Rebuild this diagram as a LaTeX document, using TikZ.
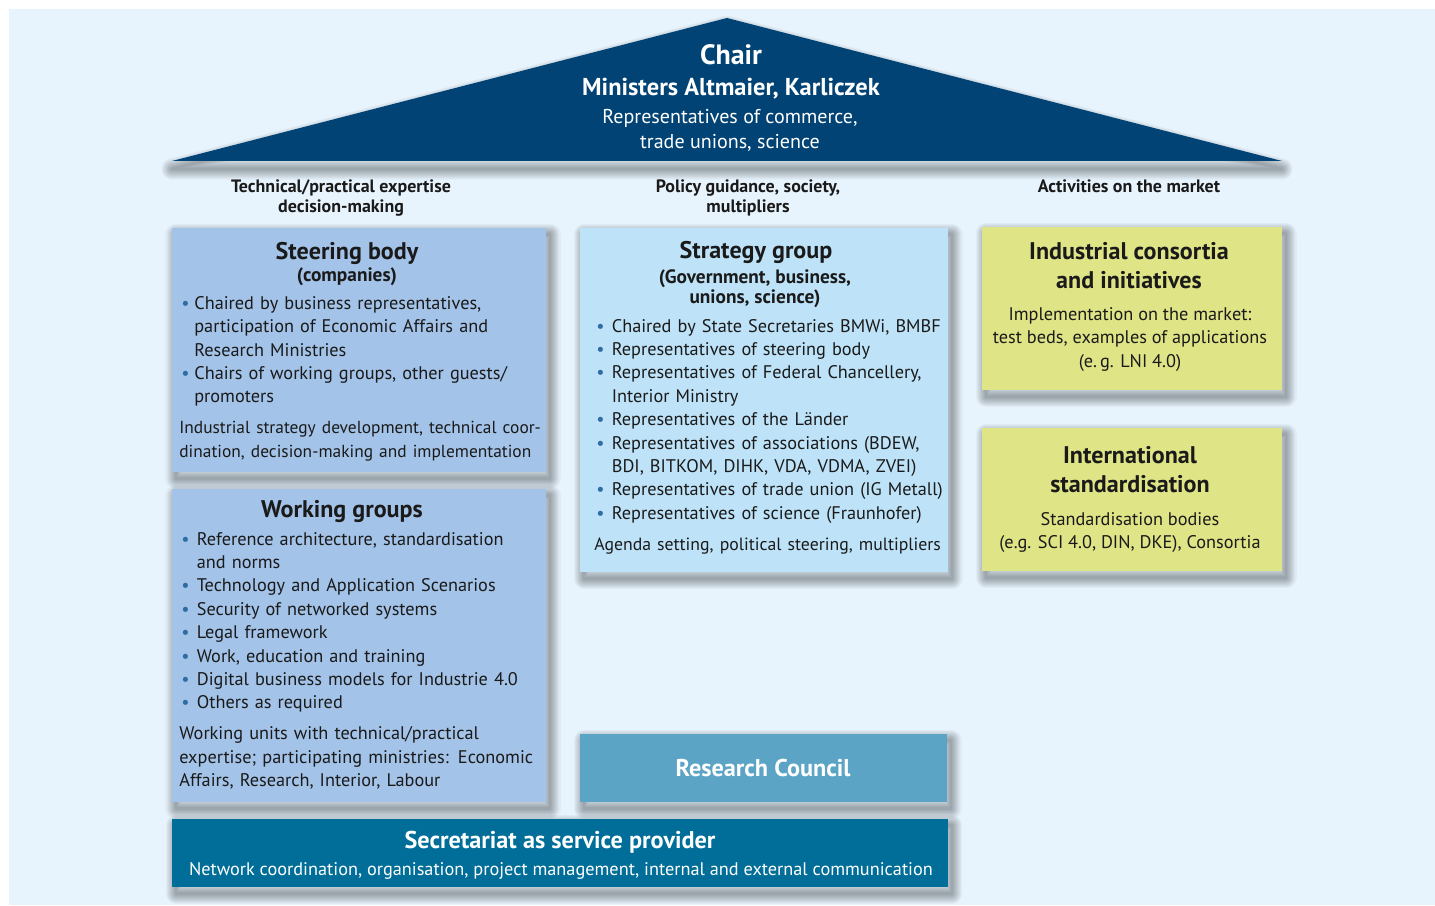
\documentclass[tikz,border=0pt]{standalone}
\usepackage{fontspec}
\setmainfont{PT Sans}

\definecolor{panelbg}{HTML}{E8F4FD}
\definecolor{roofblue}{HTML}{004374}
\definecolor{steerblue}{HTML}{A3C3E8}
\definecolor{stratblue}{HTML}{BEE3F8}
\definecolor{councilblue}{HTML}{5BA4C5}
\definecolor{secblue}{HTML}{006E98}
\definecolor{marketyellow}{HTML}{DFE486}
\definecolor{bulletblue}{HTML}{2E6DA4}
\definecolor{inktext}{HTML}{1A1A1A}

\newcommand{\bodyfont}{\fontsize{10.4pt}{4.68mm}\selectfont}
\newcommand{\narrowfont}[1]{\fontsize{#1}{4.68mm}\selectfont}
\newcommand{\headfont}{\bfseries\fontsize{13.7pt}{5.8mm}\selectfont}
\newcommand{\subheadfont}{\bfseries\fontsize{11pt}{4mm}\selectfont}
\newcommand{\labelfont}{\bfseries\fontsize{10.2pt}{4mm}\selectfont}
\newcommand{\chairfont}{\bfseries\fontsize{15.9pt}{6mm}\selectfont}
\newcommand{\ministerfont}{\bfseries\fontsize{13.9pt}{5mm}\selectfont}
\newcommand{\roofbodyfont}{\fontsize{11.4pt}{5mm}\selectfont}
\newcommand{\whiteheadfont}{\bfseries\fontsize{13.8pt}{5mm}\selectfont}
\newcommand{\bitem}[1][3.5mm]{\par\noindent\hangindent=#1\hangafter=1\makebox[#1][l]{\hspace{0.4mm}\textcolor{bulletblue}{\textbullet}}\strut\ignorespaces}
\newcommand{\lastpara}{\par\vspace{1.5mm}\noindent\strut\ignorespaces}

\tikzset{
	softshadow/.style={
		preaction={fill=none, draw=black, draw opacity=0.035, line join=round, line width=12pt, transform canvas={shift={#1}}},
		preaction={fill=none, draw=black, draw opacity=0.035, line join=round, line width=10.8pt, transform canvas={shift={#1}}},
		preaction={fill=none, draw=black, draw opacity=0.035, line join=round, line width=9.6pt, transform canvas={shift={#1}}},
		preaction={fill=none, draw=black, draw opacity=0.035, line join=round, line width=8.4pt, transform canvas={shift={#1}}},
		preaction={fill=none, draw=black, draw opacity=0.035, line join=round, line width=7.2pt, transform canvas={shift={#1}}},
		preaction={fill=none, draw=black, draw opacity=0.035, line join=round, line width=6pt, transform canvas={shift={#1}}},
		preaction={fill=none, draw=black, draw opacity=0.035, line join=round, line width=4.8pt, transform canvas={shift={#1}}},
		preaction={fill=none, draw=black, draw opacity=0.035, line join=round, line width=3.6pt, transform canvas={shift={#1}}},
		preaction={fill=none, draw=black, draw opacity=0.035, line join=round, line width=2.4pt, transform canvas={shift={#1}}},
		preaction={fill=none, draw=black, draw opacity=0.035, line join=round, line width=1.2pt, transform canvas={shift={#1}}}
	},
	panelbox/.style={rectangle, inner sep=0pt, outer sep=0pt, softshadow={(0.8mm,-1.3mm)}},
	bodytext/.style={inner sep=0pt, align=left, font=\bodyfont, text=inktext, anchor=north west},
	centretext/.style={inner sep=0pt, align=center, font=\bodyfont, text=inktext, anchor=north},
	headtext/.style={inner sep=0pt, align=center, font=\headfont, text=inktext},
	subheadtext/.style={inner sep=0pt, align=center, font=\subheadfont, text=inktext},
	labeltext/.style={inner sep=0pt, align=center, font=\labelfont, text=inktext, anchor=north},
	whitehead/.style={inner sep=0pt, font=\whiteheadfont, text=white}
}

\begin{document}
\begin{tikzpicture}[x=0.02cm,y=-0.02cm]
	\useasboundingbox (0,0) rectangle (1435,905);
	\fill[white] (0,0) rectangle (1435,905);
	\fill[panelbg] (9,9) rectangle (1435,905);

	\fill[roofblue, softshadow={(0mm,-1.6mm)}] (172,161) -- (727,18) -- (1282,161) -- cycle;
	\node[inner sep=0pt, font=\chairfont, text=white, anchor=base] (chair) at (731,65) {Chair};
	\node[inner sep=0pt, font=\ministerfont, text=white, anchor=base] (ministers) at (731,96) {Ministers Altmaier, Karliczek};
	\node[inner sep=0pt, align=center, font=\roofbodyfont, text=white, anchor=north] (reps) at (730,105.2) {\strut Representatives of commerce,\\trade unions, science};

	\node[labeltext] (techlabel) at (341,177.7) {\strut Technical/practical expertise\\decision-making};
	\node[labeltext] (policylabel) at (748,177.7) {\strut Policy guidance, society,\\multipliers};
	\node[labeltext] (marketlabel) at (1129,177.7) {\strut Activities on the market};

	\node[panelbox, fill=steerblue, minimum width=74.8mm, minimum height=48.8mm] (steer) at (359,350) {};
	\node[headtext, anchor=base] (steerhead) at (347,259.3) {Steering body};
	\node[subheadtext, anchor=base] (steersub) at (347,281.7) {(companies)};
	\node[bodytext, text width=80mm] (steertxt) at (179,285.6) {
		\bitem[3mm] Chaired by business representatives,\newline participation of Economic Affairs and\newline Research Ministries
		\bitem[3mm] Chairs of working groups, other guests/\newline promoters
		\lastpara\narrowfont{9.9pt}Industrial strategy development, technical coor-\newline dination, decision-making and implementation};

	\node[panelbox, fill=steerblue, minimum width=74.8mm, minimum height=62.6mm] (work) at (359,645.5) {};
	\node[headtext, anchor=base] (workhead) at (342,517.3) {Working groups};
	\node[bodytext, text width=80mm] (worktxt) at (179,521.3) {
		\bitem Reference architecture, standardisation\newline and norms
		\bitem Technology and Application Scenarios
		\bitem Security of networked systems
		\bitem Legal framework
		\bitem Work, education and training
		\bitem Digital business models for Industrie 4.0
		\bitem Others as required
		\lastpara Working units with technical/practical\newline expertise; participating ministries: Economic\newline Affairs, Research, Interior, Labour};

	\node[panelbox, fill=stratblue, minimum width=73.6mm, minimum height=68.8mm] (strat) at (764,400) {};
	\node[headtext, anchor=base] (strathead) at (756,258.3) {Strategy group};
	\node[subheadtext, anchor=north] (stratsub) at (755,268.7) {\strut (Government, business,\\unions, science)};
	\node[bodytext, text width=80mm] (strattxt) at (594,308.3) {
		\bitem Chaired by State Secretaries BMWi, BMBF
		\bitem Representatives of steering body
		\bitem Representatives of Federal Chancellery,\newline Interior Ministry
		\bitem Representatives of the Länder
		\bitem Representatives of associations (BDEW,\newline BDI, BITKOM, DIHK, VDA, VDMA, ZVEI)
		\bitem Representatives of trade union (IG Metall)
		\bitem Representatives of science (Fraunhofer)
		\lastpara\narrowfont{10.1pt}Agenda setting, political steering, multipliers};

	\node[panelbox, fill=marketyellow, minimum width=60mm, minimum height=32.6mm] (consort) at (1132,308.5) {};
	\node[headtext, anchor=north] (consorthead) at (1129,238.7) {\strut Industrial consortia\\and initiatives};
	\node[centretext] (consorttxt) at (1130,303.6) {\strut Implementation on the market:\\test beds, examples of applications\\(e.\,g. LNI 4.0)};

	\node[panelbox, fill=marketyellow, minimum width=60mm, minimum height=28.6mm] (intstd) at (1132,499.5) {};
	\node[headtext, anchor=north] (intstdhead) at (1130,442.4) {\strut International\\standardisation};
	\node[centretext] (intstdtxt) at (1130,508.6) {\strut Standardisation bodies\\(e.g. SCI 4.0, DIN, DKE), Consortia};

	\node[panelbox, fill=councilblue, minimum width=73.4mm, minimum height=13.6mm] (council) at (763.5,768) {};
	\node[whitehead, anchor=base] (counciltxt) at (763,776.7) {Research Council};

	\node[panelbox, fill=secblue, minimum width=155.2mm, minimum height=13.6mm] (secr) at (560,853) {};
	\node[whitehead, anchor=base] (secrhead) at (560,848.3) {Secretariat as service provider};
	\node[inner sep=0pt, font=\bodyfont, text=white, anchor=base] (secrtxt) at (561,875) {Network coordination, organisation, project management, internal and external communication};
\end{tikzpicture}
\end{document}
